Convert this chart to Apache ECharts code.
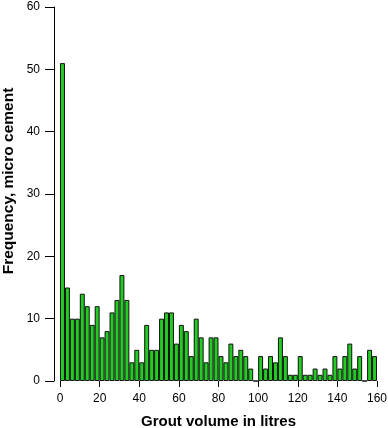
<!DOCTYPE html>
<html>
<head>
<meta charset="utf-8">
<script src="https://cdn.jsdelivr.net/npm/echarts@6/dist/echarts.min.js"></script>
<style>
  html, body { margin: 0; padding: 0; background: #fff; }
  #chart { width: 388px; height: 428px; }
</style>
</head>
<body>
<div id="chart"></div>
<script>
// histogram of grout volume, 2.5 litre bins from 0 to 160
const binWidth = 2.5
const counts = [
  51, 15, 10, 10, 14, 12, 9, 12, 7, 8,
  11, 13, 17, 13, 3, 5, 3, 9, 5, 5,
  10, 11, 11, 6, 9, 8, 4, 10, 7, 3,
  7, 7, 4, 3, 6, 4, 5, 4, 2, 0,
  4, 2, 4, 3, 7, 4, 1, 1, 4, 1,
  1, 2, 1, 2, 1, 4, 2, 4, 6, 2,
  4, 0, 5, 4
]
const binStarts = counts.map((_, i) => i * binWidth)
const xTicks = [0, 20, 40, 60, 80, 100, 120, 140, 160]
const yTicks = [0, 10, 20, 30, 40, 50, 60]

const font = 'Liberation Sans, Arial, Helvetica, sans-serif'
const chart = echarts.init(document.getElementById('chart'), null, { renderer: 'canvas' })

chart.setOption({
  animation: false,
  backgroundColor: '#fff',
  grid: { left: 60, right: 11, top: 7, bottom: 47, outerBoundsMode: 'none', containLabel: false },
  // y title placed by hand, it sits a bit above the axis middle in the original
  graphic: [
    {
      type: 'text',
      x: 9,
      y: 181,
      rotation: Math.PI / 2,
      style: {
        text: 'Frequency, micro cement',
        font: 'bold 15.5px ' + font,
        fill: '#000',
        textAlign: 'center',
        textVerticalAlign: 'middle'
      }
    }
  ],
  xAxis: [
    {
      type: 'category',
      data: binStarts,
      boundaryGap: true,
      show: false
    },
    {
      type: 'value',
      min: xTicks[0],
      max: xTicks[xTicks.length - 1],
      interval: 20,
      position: 'bottom',
      axisLine: { show: false },
      axisTick: { show: true, length: 6, lineStyle: { color: '#000', width: 1 } },
      axisLabel: { color: '#000', fontSize: 12, fontFamily: font, margin: 12 },
      splitLine: { show: false },
      name: 'Grout volume in litres',
      nameLocation: 'middle',
      nameGap: 33,
      nameTextStyle: { color: '#000', fontSize: 15, fontWeight: 'bold', fontFamily: font }
    }
  ],
  yAxis: {
    type: 'value',
    position: 'left',
    min: yTicks[0],
    max: yTicks[yTicks.length - 1],
    interval: 10,
    offset: 6,
    axisLine: { show: true, onZero: false, lineStyle: { color: '#000', width: 1 } },
    axisTick: { show: true, length: 9, lineStyle: { color: '#000', width: 1 } },
    axisLabel: { color: '#000', fontSize: 12, fontFamily: font, margin: 14 },
    splitLine: { show: false }
  },
  series: [
    {
      type: 'bar',
      xAxisIndex: 0,
      data: counts,
      barCategoryGap: '0%',
      barGap: '0%',
      itemStyle: { color: '#22cc22', borderColor: '#111', borderWidth: 1 }
    }
  ]
})
</script>
</body>
</html>
